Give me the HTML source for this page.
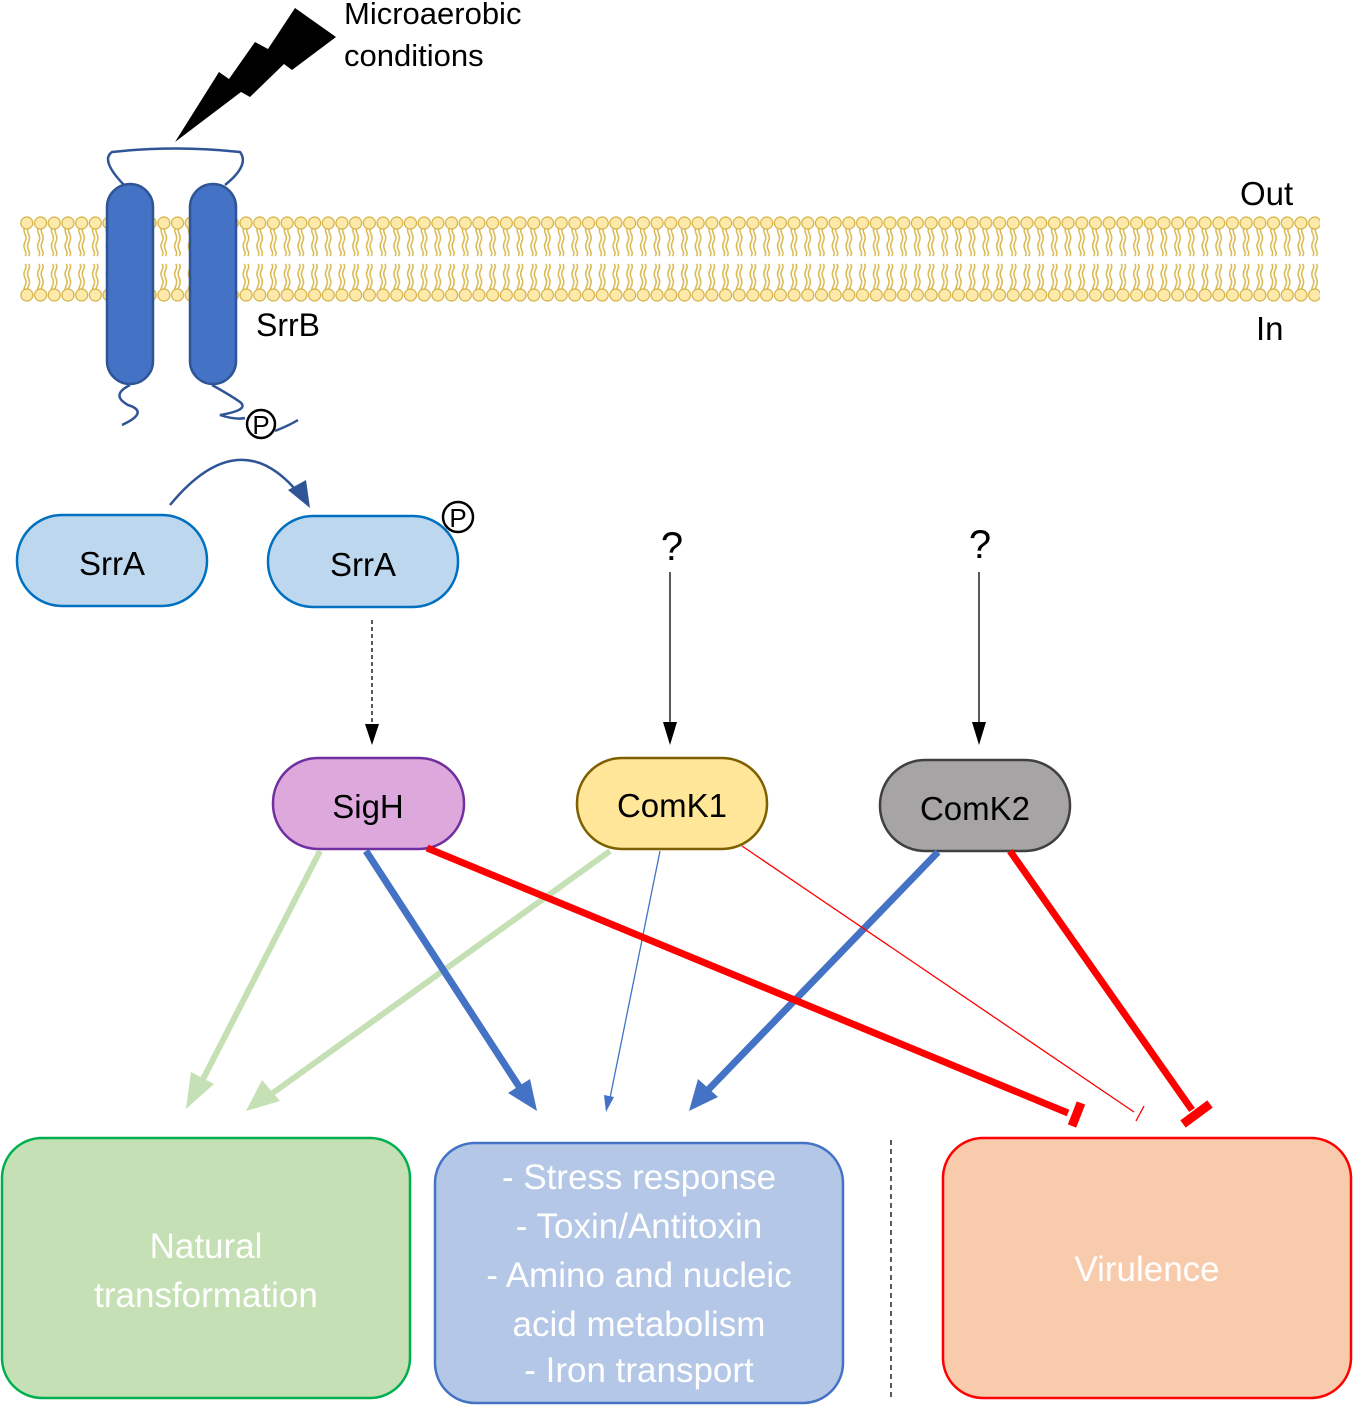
<!DOCTYPE html>
<html><head><meta charset="utf-8"><style>
html,body{margin:0;padding:0;background:#fff;}
svg{display:block;font-family:"Liberation Sans","DejaVu Sans",sans-serif;}
</style></head><body>
<svg width="1353" height="1405" viewBox="0 0 1353 1405" xmlns="http://www.w3.org/2000/svg">
<defs>
<pattern id="mem" x="20" y="214" width="13.7" height="90" patternUnits="userSpaceOnUse">
 <g fill="none" stroke="#d9b84a" stroke-width="1.5">
  <path d="M5 12 q-2 4 0 8 q2 4 0 8 q-2 4 0 8 q2 4 0 6"/>
  <path d="M8.5 12 q-2 4 0 8 q2 4 0 8 q-2 4 0 8 q2 4 0 6"/>
  <path d="M5 80 q-2 -4 0 -8 q2 -4 0 -8 q-2 -4 0 -8 q2 -4 0 -6"/>
  <path d="M8.5 80 q-2 -4 0 -8 q2 -4 0 -8 q-2 -4 0 -8 q2 -4 0 -6"/>
 </g>
 <circle cx="6.85" cy="9" r="6" fill="#fde9a9" stroke="#d4b040" stroke-width="1.2"/>
 <circle cx="6.85" cy="81" r="6" fill="#fde9a9" stroke="#d4b040" stroke-width="1.2"/>
</pattern>
</defs>

<rect x="20" y="214" width="1300" height="90" fill="url(#mem)"/>

<polygon points="175,142 219,72 229,79 255,42 268,49 295,8 336,37 292,70 284,64 250,97 241,92" fill="#000"/>
<text x="344" y="24" font-size="31">Microaerobic</text>
<text x="344" y="66" font-size="31">conditions</text>
<text x="1240" y="205" font-size="33">Out</text>
<text x="1256" y="340" font-size="33">In</text>

<g stroke="#2f5597" stroke-width="2.5" fill="none">
<path d="M124 185 Q100 160 112 152 Q175 145 240 152 Q250 165 225 185"/>
<path d="M130 385 Q110 395 128 405 Q150 412 122 425"/>
<path d="M212 385 Q230 395 240 402 Q250 410 220 415 Q235 420 245 418"/>
<path d="M275 431 Q290 425 298 420"/>
</g>
<rect x="107" y="184" width="46" height="200" rx="23" fill="#4472c4" stroke="#2f5597" stroke-width="2.5"/>
<rect x="190" y="184" width="46" height="200" rx="23" fill="#4472c4" stroke="#2f5597" stroke-width="2.5"/>
<text x="256" y="336" font-size="32">SrrB</text>
<circle cx="261" cy="424" r="14" fill="#fff" stroke="#000" stroke-width="2.5"/>
<text x="261" y="434" font-size="26" text-anchor="middle">P</text>

<path d="M170 505 Q240 420 300 495" fill="none" stroke="#2f5597" stroke-width="2.5"/>
<polygon points="288,490 306,480 310,508" fill="#2f5597"/>

<rect x="17" y="515" width="190" height="91" rx="45" fill="#bdd7ee" stroke="#0070c0" stroke-width="2.5"/>
<text x="112" y="575" font-size="33" text-anchor="middle">SrrA</text>
<rect x="268" y="516" width="190" height="91" rx="45" fill="#bdd7ee" stroke="#0070c0" stroke-width="2.5"/>
<text x="363" y="576" font-size="33" text-anchor="middle">SrrA</text>
<circle cx="458" cy="517" r="15" fill="#fff" stroke="#000" stroke-width="2.5"/>
<text x="458" y="527" font-size="26" text-anchor="middle">P</text>

<line x1="372" y1="620" x2="372" y2="744" stroke="#000" stroke-width="1.3" stroke-dasharray="4,3"/>
<polygon points="365,724 379,724 372,745" fill="#000"/>
<text x="672" y="560" font-size="40" text-anchor="middle">?</text>
<line x1="670" y1="572" x2="670" y2="725" stroke="#000" stroke-width="1.3"/>
<polygon points="663,722 677,722 670,745" fill="#000"/>
<text x="980" y="558" font-size="40" text-anchor="middle">?</text>
<line x1="979" y1="572" x2="979" y2="725" stroke="#000" stroke-width="1.3"/>
<polygon points="972,722 986,722 979,745" fill="#000"/>

<rect x="273" y="758" width="191" height="91" rx="45" fill="#dda9dd" stroke="#7030a0" stroke-width="2.5"/>
<text x="368" y="818" font-size="33" text-anchor="middle">SigH</text>
<rect x="577" y="758" width="190" height="91" rx="45" fill="#ffe699" stroke="#7f6000" stroke-width="2.5"/>
<text x="672" y="817" font-size="33" text-anchor="middle">ComK1</text>
<rect x="880" y="760" width="190" height="91" rx="45" fill="#a6a4a4" stroke="#404040" stroke-width="2.5"/>
<text x="975" y="820" font-size="33" text-anchor="middle">ComK2</text>

<g stroke="#c5e0b4" stroke-width="6">
<line x1="320" y1="851" x2="200" y2="1085"/>
<line x1="610" y1="851" x2="270" y2="1095"/>
</g>
<polygon points="186,1109 191,1072 214,1084" fill="#c5e0b4"/>
<polygon points="246,1111 262,1080 280,1101" fill="#c5e0b4"/>

<line x1="366" y1="851" x2="520" y2="1088" stroke="#4472c4" stroke-width="7"/>
<polygon points="537,1111 508,1093 530,1079" fill="#4472c4"/>
<line x1="660" y1="851" x2="610" y2="1098" stroke="#4472c4" stroke-width="1.3"/>
<polygon points="606,1112 604,1095 614,1097" fill="#4472c4"/>
<line x1="938" y1="852" x2="708" y2="1090" stroke="#4472c4" stroke-width="7"/>
<polygon points="689,1111 698,1079 718,1097" fill="#4472c4"/>

<line x1="427" y1="848" x2="1068" y2="1113" stroke="#f00" stroke-width="7"/>
<line x1="1081" y1="1103" x2="1072" y2="1126" stroke="#f00" stroke-width="9"/>
<line x1="742" y1="846" x2="1134" y2="1112" stroke="#f00" stroke-width="1.3"/>
<line x1="1144" y1="1106" x2="1136" y2="1121" stroke="#f00" stroke-width="1.3"/>
<line x1="1010" y1="851" x2="1192" y2="1110" stroke="#f00" stroke-width="7"/>
<line x1="1183" y1="1124" x2="1210" y2="1104" stroke="#f00" stroke-width="9"/>

<line x1="891" y1="1140" x2="891" y2="1400" stroke="#000" stroke-width="1.3" stroke-dasharray="5,4"/>

<rect x="2" y="1138" width="408" height="260" rx="40" fill="#c5e0b4" stroke="#00b050" stroke-width="2.5"/>
<text x="206" y="1258" font-size="35" fill="#fff" text-anchor="middle">Natural</text>
<text x="206" y="1307" font-size="35" fill="#fff" text-anchor="middle">transformation</text>

<rect x="435" y="1143" width="408" height="260" rx="40" fill="#b4c7e7" stroke="#4472c4" stroke-width="2.5"/>
<g font-size="35" fill="#fff" text-anchor="middle">
<text x="639" y="1189">- Stress response</text>
<text x="639" y="1238">- Toxin/Antitoxin</text>
<text x="639" y="1287">- Amino and nucleic</text>
<text x="639" y="1336">acid metabolism</text>
<text x="639" y="1382">- Iron transport</text>
</g>

<rect x="943" y="1138" width="408" height="260" rx="40" fill="#f8cbad" stroke="#f00" stroke-width="2.5"/>
<text x="1147" y="1281" font-size="35" fill="#fff" text-anchor="middle">Virulence</text>
</svg>
</body></html>
